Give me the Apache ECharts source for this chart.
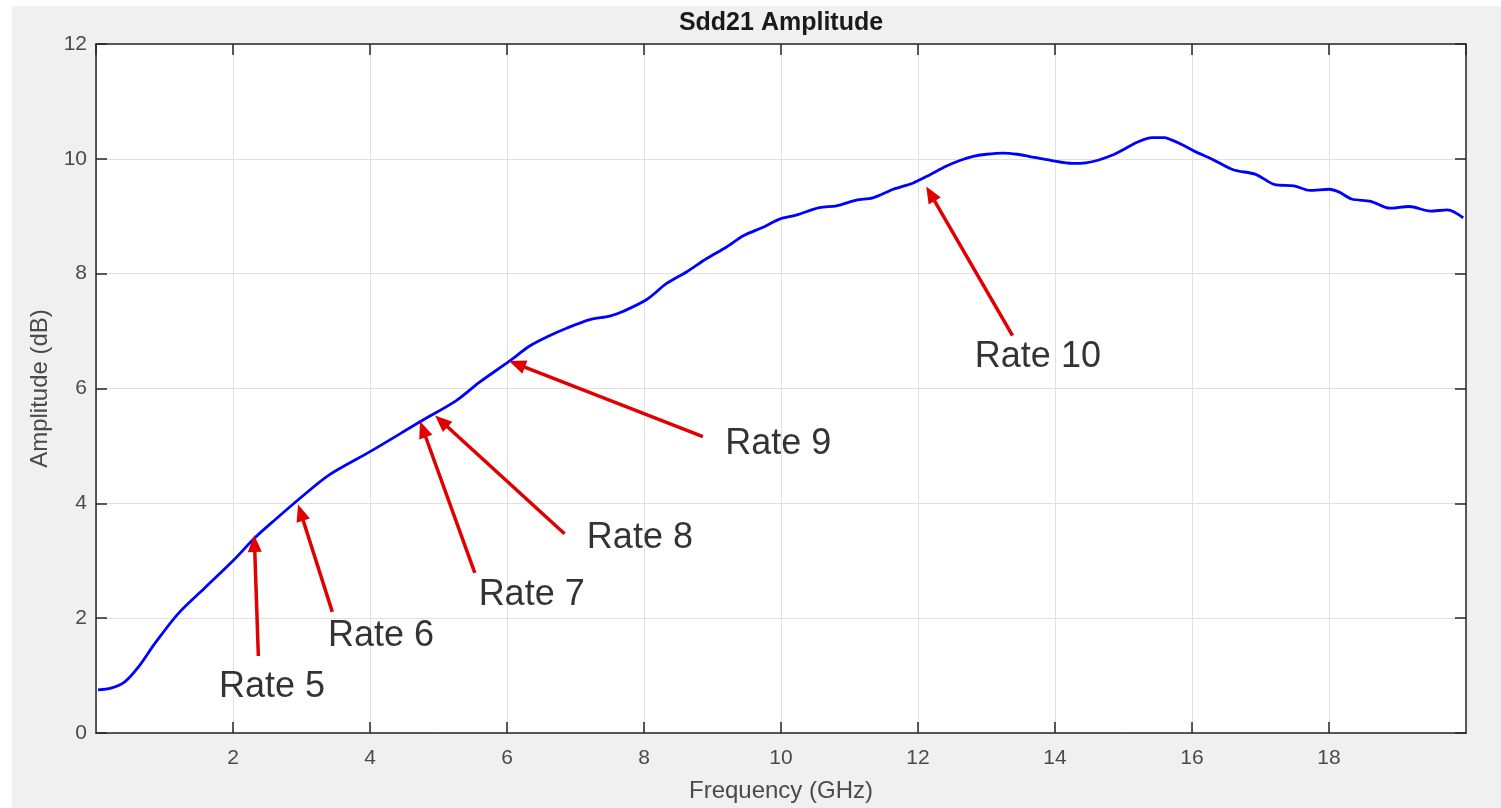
<!DOCTYPE html>
<html>
<head>
<meta charset="utf-8">
<script src="https://cdn.jsdelivr.net/npm/echarts@6/dist/echarts.min.js"></script>
<style>
  html, body { margin: 0; padding: 0; background: #fff; }
  #main { position: absolute; left: 12px; top: 6px; width: 1489px; height: 802px; }
</style>
</head>
<body>
<div id="main"></div>
<script>
// Sdd21 amplitude curve
const freq = [0.03, 0.22, 0.42, 0.62, 0.86, 1.2, 1.59, 2.0, 2.32, 2.61, 2.97, 3.41, 4.0, 4.73, 5.26, 5.6,
  6.04, 6.33, 6.62, 6.87, 7.21, 7.5, 7.69, 8.04, 8.33, 8.62, 8.91, 9.2, 9.45, 9.74, 9.98, 10.22, 10.56, 10.81,
  11.1, 11.34, 11.64, 11.93, 12.17, 12.41, 12.61, 12.79, 13.0, 13.24, 13.45, 13.63, 13.95, 14.25, 14.45, 14.64,
  14.85, 14.98, 15.2, 15.42, 15.6, 15.7, 15.85, 16.04, 16.3, 16.6, 16.93, 17.21, 17.49, 17.72, 18.0, 18.15,
  18.33, 18.61, 18.89, 19.17, 19.48, 19.73, 19.96];
const amp = [0.75, 0.78, 0.89, 1.15, 1.56, 2.08, 2.53, 3.0, 3.4, 3.71, 4.08, 4.5, 4.9, 5.42, 5.79, 6.11,
  6.48, 6.74, 6.92, 7.05, 7.2, 7.26, 7.34, 7.55, 7.83, 8.03, 8.26, 8.46, 8.66, 8.81, 8.95, 9.02, 9.15, 9.18,
  9.28, 9.32, 9.47, 9.58, 9.72, 9.87, 9.97, 10.04, 10.08, 10.1, 10.08, 10.04, 9.97, 9.92, 9.93, 9.98,
  10.07, 10.15, 10.29, 10.37, 10.37, 10.33, 10.25, 10.13, 9.99, 9.81, 9.73, 9.55, 9.53, 9.45, 9.47, 9.42,
  9.3, 9.26, 9.14, 9.17, 9.09, 9.11, 8.97];

// annotations (data coordinates)
const rateNames = ['Rate 5', 'Rate 6', 'Rate 7', 'Rate 8', 'Rate 9', 'Rate 10'];
const rateTip = [[2.31, 3.45], [2.95, 3.98], [4.73, 5.43], [4.95, 5.53], [6.03, 6.48], [12.12, 9.52]];
const rateTail = [[2.37, 1.34], [3.45, 2.11], [5.53, 2.79], [6.84, 3.47], [8.86, 5.16], [13.38, 6.92]];
const rateText = [[2.57, 0.8], [4.16, 1.68], [6.36, 2.4], [7.94, 3.4], [9.96, 5.04], [13.75, 6.55]];

const xTicks = { min: 0, max: 20, interval: 2 };
const yTicks = { min: 0, max: 12, interval: 2 };

const font = 'Liberation Sans, Arial, Helvetica, sans-serif';
const axisColor = '#262626';
const labelColor = '#4a4a4a';
const headLen = 17;

const chart = echarts.init(document.getElementById('main'));

const lineAxis = {
  onZero: false,
  lineStyle: { color: axisColor, width: 1.5 }
};
const tick = { inside: true, length: 11, lineStyle: { color: axisColor, width: 1.5 } };

function arrowData(tips) {
  return rateNames.map((n, i) => [
    { coord: rateTail[i] },
    { coord: tips[i] }
  ]);
}

const option = {
  animation: false,
  backgroundColor: '#f0f0f0',
  textStyle: { fontFamily: font },
  grid: {
    left: 84, top: 32, right: 35, bottom: 74,
    show: true, backgroundColor: '#ffffff', borderWidth: 0
  },
  xAxis: [{
    type: 'value',
    min: xTicks.min, max: xTicks.max, interval: xTicks.interval,
    axisLine: lineAxis,
    axisTick: tick,
    axisLabel: {
      showMinLabel: false, showMaxLabel: false,
      fontSize: 21, color: labelColor, margin: 15, fontFamily: font
    },
    splitLine: { show: true, lineStyle: { color: '#e0e0e0', width: 1 } },
    name: 'Frequency (GHz)',
    nameLocation: 'middle',
    nameGap: 46,
    nameTextStyle: { fontSize: 24, color: labelColor, fontFamily: font }
  }, {
    type: 'value',
    position: 'top',
    min: xTicks.min, max: xTicks.max, interval: xTicks.interval,
    axisLine: lineAxis,
    axisTick: tick,
    axisLabel: { show: false },
    splitLine: { show: false },
    name: 'Sdd21 Amplitude',
    nameLocation: 'middle',
    nameGap: 8,
    nameTextStyle: { fontSize: 25, fontWeight: 'bold', color: '#1a1a1a', fontFamily: font }
  }],
  yAxis: [{
    type: 'value',
    min: yTicks.min, max: yTicks.max, interval: yTicks.interval,
    axisLine: lineAxis,
    axisTick: tick,
    axisLabel: { fontSize: 21, color: labelColor, margin: 9, fontFamily: font },
    splitLine: { show: true, lineStyle: { color: '#e0e0e0', width: 1 } },
    name: 'Amplitude (dB)',
    nameLocation: 'middle',
    nameGap: 42,
    nameTextStyle: { fontSize: 24, color: labelColor, fontFamily: font }
  }, {
    type: 'value',
    position: 'right',
    min: yTicks.min, max: yTicks.max, interval: yTicks.interval,
    axisLine: lineAxis,
    axisTick: tick,
    axisLabel: { show: false },
    splitLine: { show: false }
  }],
  series: [{
    type: 'line',
    xAxisIndex: 0, yAxisIndex: 0,
    data: freq.map((f, i) => [f, amp[i]]),
    showSymbol: false,
    smooth: 0.3,
    lineStyle: { color: '#0000ff', width: 2.8 },
    z: 3,
    markLine: {
      silent: true,
      animation: false,
      symbol: ['none', 'triangle'],
      symbolSize: [14, headLen],
      label: { show: false },
      lineStyle: { color: '#e00000', width: 3.5, type: 'solid' },
      emphasis: { disabled: true },
      data: arrowData(rateTip)
    }
  }, {
    type: 'scatter',
    xAxisIndex: 0, yAxisIndex: 0,
    silent: true,
    symbolSize: 1,
    itemStyle: { color: 'rgba(0,0,0,0)' },
    data: rateNames.map((n, i) => ({ name: n, value: rateText[i] })),
    label: {
      show: true,
      position: 'inside',
      formatter: '{b}',
      fontSize: 36,
      color: '#000000',
      textBorderWidth: 0,
      fontFamily: font
    },
    z: 5
  }]
};

chart.setOption(option);

// the triangle head is centred on the end point; pull the end back so its tip lands on the curve
const finder = { xAxisIndex: 0, yAxisIndex: 0 };
const shiftedTips = rateTip.map((tip, i) => {
  const a = chart.convertToPixel(finder, rateTail[i]);
  const b = chart.convertToPixel(finder, tip);
  const dx = b[0] - a[0], dy = b[1] - a[1];
  const len = Math.sqrt(dx * dx + dy * dy);
  const k = (len - headLen / 2) / len;
  return chart.convertFromPixel(finder, [a[0] + dx * k, a[1] + dy * k]);
});
chart.setOption({ series: [{ markLine: { data: arrowData(shiftedTips) } }] });
</script>
</body>
</html>
